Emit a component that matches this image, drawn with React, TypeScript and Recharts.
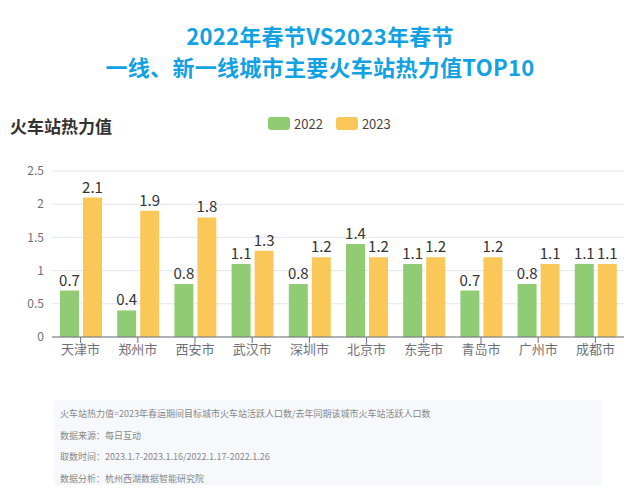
import React from 'react'
import { BarChart, Bar, XAxis, YAxis, CartesianGrid, LabelList } from 'recharts'

const cities = ['天津市', '郑州市', '西安市', '武汉市', '深圳市', '北京市', '东莞市', '青岛市', '广州市', '成都市']
const values2022 = [0.7, 0.4, 0.8, 1.1, 0.8, 1.4, 1.1, 0.7, 0.8, 1.1]
const values2023 = [2.1, 1.9, 1.8, 1.3, 1.2, 1.2, 1.2, 1.2, 1.1, 1.1]
const yTicks = [0, 0.5, 1, 1.5, 2, 2.5]
const titleLines = ['2022年春节VS2023年春节', '一线、新一线城市主要火车站热力值TOP10']
const notes = [
  '火车站热力值=2023年春运期间目标城市火车站活跃人口数/去年同期该城市火车站活跃人口数',
  '数据来源：每日互动',
  '取数时间：2023.1.7-2023.1.16/2022.1.17-2022.1.26',
  '数据分析：杭州西湖数据智能研究院',
]

const FONT = "'Noto Sans CJK SC', 'Noto Sans', sans-serif"
const GREEN = '#91cc75'
const YELLOW = '#fac858'

const data = cities.map((c, i) => ({ city: c, y2022: values2022[i], y2023: values2023[i] }))
const legendItems = [
  { name: '2022', color: GREEN },
  { name: '2023', color: YELLOW },
]

export default function App() {
  return (
    <div style={{ position: 'relative', width: 640, height: 501, margin: -8, background: '#fff', fontFamily: FONT, overflow: 'hidden' }}>
      {titleLines.map((t, i) => (
        <div key={t} style={{ position: 'absolute', top: 23 + i * 31, left: 0, width: 640, height: 24, textAlign: 'center', color: '#12a1e2', fontWeight: 700, fontSize: 22, letterSpacing: 0.3, lineHeight: '24px' }}>
          {t}
        </div>
      ))}
      <div style={{ position: 'absolute', top: 113, left: 10, fontSize: 17, fontWeight: 700, color: '#333' }}>火车站热力值</div>
      <div style={{ position: 'absolute', top: 114, left: 268, display: 'flex', gap: 13, fontSize: 13, color: '#444' }}>
        {legendItems.map(l => (
          <div key={l.name} style={{ display: 'flex', alignItems: 'center' }}>
            <span style={{ width: 22, height: 13, borderRadius: 3, background: l.color, display: 'inline-block', marginRight: 4 }} />
            {l.name}
          </div>
        ))}
      </div>
      <div style={{ position: 'absolute', top: 0, left: 0 }}>
        <BarChart width={640} height={501} data={data} margin={{ top: 171, right: 16, bottom: 134, left: 12 }} barSize={19} barGap={4}>
          <CartesianGrid vertical={false} stroke="#e0e6f1" />
          <XAxis dataKey="city" height={30} tick={{ fill: '#6e7079', fontSize: 13, fontFamily: FONT }} axisLine={{ stroke: '#6e7079' }} tickLine={{ stroke: '#6e7079' }} interval={0} />
          <YAxis width={40} domain={[0, 2.5]} ticks={yTicks} tick={{ fill: '#6e7079', fontSize: 12, fontFamily: FONT }} axisLine={false} tickLine={false} />
          <Bar dataKey="y2022" name="2022" fill={GREEN} isAnimationActive={false}>
            <LabelList dataKey="y2022" position="top" fill="#333" fontSize={15} fontFamily={FONT} />
          </Bar>
          <Bar dataKey="y2023" name="2023" fill={YELLOW} isAnimationActive={false}>
            <LabelList dataKey="y2023" position="top" fill="#333" fontSize={15} fontFamily={FONT} />
          </Bar>
        </BarChart>
      </div>
      <div style={{ position: 'absolute', top: 400, left: 54, width: 548, height: 85, background: '#f6f8fc', fontSize: 9, color: '#888', boxSizing: 'border-box', padding: '8px 0 0 6px' }}>
        {notes.map(n => (
          <div key={n} style={{ height: 21.5, lineHeight: '12px' }}>{n}</div>
        ))}
      </div>
    </div>
  )
}
